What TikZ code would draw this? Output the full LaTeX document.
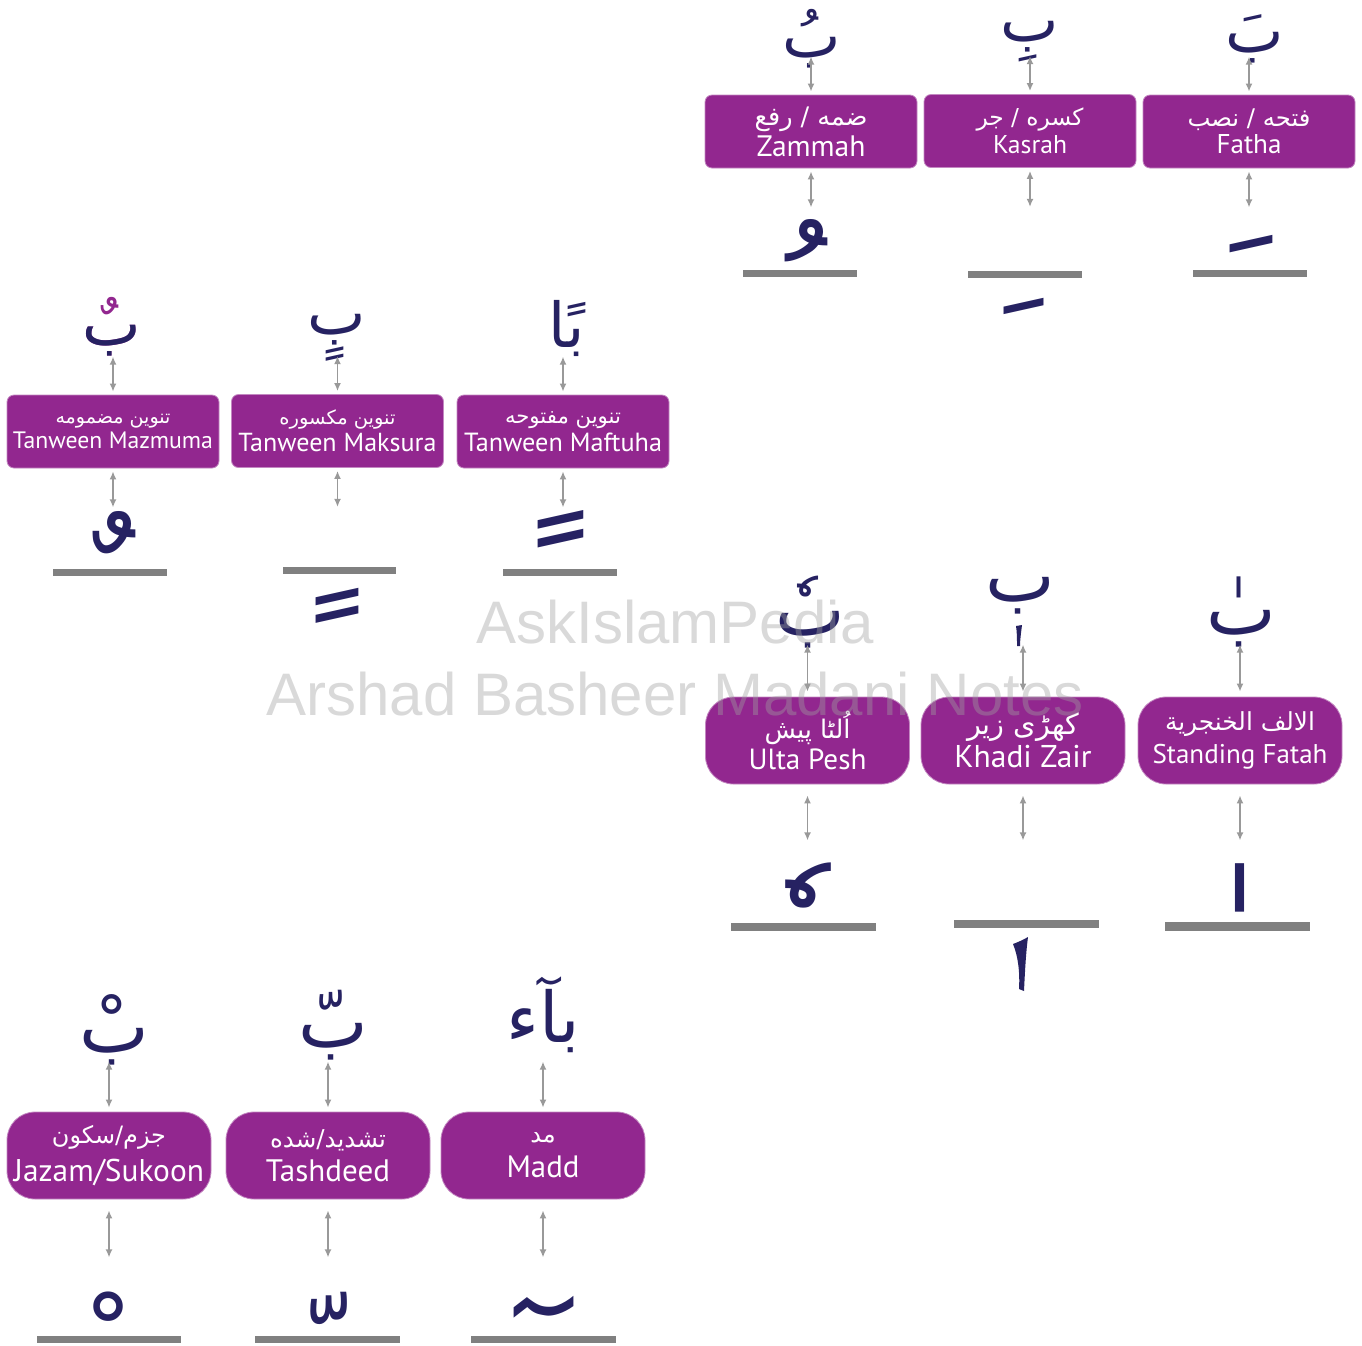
\documentclass[tikz,border=0pt]{standalone}
\usepackage{fontspec}
\setmainfont{PT Sans}
\newfontfamily\urdufont[Script=Arabic]{DejaVu Sans}
\newfontfamily\markfont{Liberation Sans}
\TeXXeTstate=1
\usetikzlibrary{arrows.meta,calc}
\definecolor{harakapurple}{RGB}{146,39,143}
\definecolor{inkblue}{RGB}{38,34,98}
\definecolor{rulegray}{RGB}{128,128,128}
\definecolor{arrowgray}{RGB}{153,153,153}
\definecolor{wmgray}{RGB}{160,160,160}

% Arabic-script text at a given size
\newcommand\arab[2]{{\urdufont\fontsize{#1}{#1}\selectfont #2}}
% Arabic-script text scaled to a given width
\newcommand\arabw[2]{\resizebox{#1pt}{!}{\urdufont #2}}
% Latin text scaled to a given width
\newcommand\latw[2]{\resizebox{#1pt}{!}{#2}}
% a large mark that sits above the baseline, lowered so its box hugs the ink
\newcommand\highsign[2]{{\urdufont\fontsize{#1}{#1}\selectfont\raisebox{-0.6em}[0.3em][0pt]{#2}}}

\begin{document}
\begin{tikzpicture}[x=1pt,y=-1pt,
  namebox/.style={rectangle, rounded corners=7pt, fill=harakapurple,
    draw=harakapurple!55!white, line width=0.8pt, minimum width=212pt,
    minimum height=73pt, inner sep=0pt, text=white, align=center},
  roundbox/.style={namebox, rounded corners=28pt, minimum width=204pt, minimum height=87pt},
  letter/.style={text=inkblue, inner sep=0pt},
  sign/.style={text=inkblue, inner sep=0pt},
  dbl/.style={draw=arrowgray, line width=1.6pt,
    {Latex[length=8pt,width=7pt]}-{Latex[length=8pt,width=7pt]}},
  baseline rule/.style={fill=rulegray},
  wm/.style={text=wmgray, text opacity=0.4, inner sep=0pt,
    font=\markfont\fontsize{60}{60}\selectfont}]
\useasboundingbox (0,0) rectangle (1362,1345);

% ---------- Zammah, Kasrah, Fatha ----------
\node[namebox] (bZ) at (811,131.5) {\arabw{113}{\beginR ضمه / رفع\endR}\\[3pt]\latw{109}{Zammah}};
\node[namebox] (bK) at (1030,131) {\arabw{107}{\beginR کسره / جر\endR}\\[3pt]\latw{74}{Kasrah}};
\node[namebox] (bF) at (1249,131.5) {\arabw{123}{\beginR فتحه / نصب\endR}\\[3pt]\latw{65}{Fatha}};

\node[letter] (tZ) at (812,39) {\arab{62}{\beginR ب^^^^064f\endR}};
\node[letter] (tK) at (1030,42) {\arab{62}{\beginR ب^^^^0650\endR}};
\node[letter] (tF) at (1255,39) {\arab{62}{\beginR ب^^^^064e\endR}};

\node[sign] (sZ) at (806,238) {\highsign{150}{^^^^fe78}};
\node[sign] (sK) at (1024,305) {\arab{140}{^^^^fe7a}};
\node[sign] (sF) at (1251,229) {\highsign{150}{^^^^fe76}};

\fill[baseline rule] (743,270) rectangle (857,277);
\fill[baseline rule] (968,271) rectangle (1082,278);
\fill[baseline rule] (1193,270) rectangle (1307,277);

\foreach \b in {bZ,bK,bF}{
  \coordinate (\b-up) at ($(\b.north)+(0,-38)$);
  \coordinate (\b-dn) at ($(\b.south)+(0,39)$);
  \draw[dbl] (\b-up) -- ($(\b.north)+(0,-3)$);
  \draw[dbl] ($(\b.south)+(0,3)$) -- (\b-dn);
}

% ---------- Tanween ----------
\node[namebox] (bMz) at (113,431.5) {\arabw{115}{\beginR تنوین مضمومه\endR}\\[3pt]\latw{200}{Tanween Mazmuma}};
\node[namebox] (bMk) at (337.5,431) {\arabw{116}{\beginR تنوین مکسوره\endR}\\[3pt]\latw{198}{Tanween Maksura}};
\node[namebox] (bMf) at (563,431.5) {\arabw{116}{\beginR تنوین مفتوحه\endR}\\[3pt]\latw{198}{Tanween Maftuha}};

\node[letter, text=harakapurple, anchor=base east] (tMzMark) at (141,345) {\arab{62}{\beginR ب^^^^064c\endR}};
\node[letter, anchor=base east] (tMz) at (141,345) {\arab{62}{\beginR ب\endR}};
\node[letter] (tMk) at (337,338) {\arab{62}{\beginR ب^^^^064d\endR}};
\node[letter] (tMf) at (567,328) {\arab{62}{\beginR ب^^^^064bا\endR}};

\node[sign] (sMz) at (114,529.5) {\highsign{150}{^^^^fe72}};
\node[sign] (sMk) at (337,605) {\arab{150}{^^^^fe74}};
\node[sign] (sMf) at (561,522) {\highsign{160}{^^^^fe70}};

\fill[baseline rule] (53,569) rectangle (167,576);
\fill[baseline rule] (283,567) rectangle (396,574);
\fill[baseline rule] (503,569) rectangle (617,576);

\foreach \b in {bMz,bMk,bMf}{
  \coordinate (\b-up) at ($(\b.north)+(0,-38)$);
  \coordinate (\b-dn) at ($(\b.south)+(0,39)$);
  \draw[dbl] (\b-up) -- ($(\b.north)+(0,-3)$);
  \draw[dbl] ($(\b.south)+(0,3)$) -- (\b-dn);
}

% ---------- Ulta Pesh, Khadi Zair, Standing Fatah ----------
\node[roundbox] (bU) at (807.5,740.5) {\arabw{86}{\beginR ا^^^^064fلٹا پیش\endR}\\[3pt]\latw{118}{Ulta Pesh}};
\node[roundbox] (bKh) at (1023,740.5) {\arabw{112}{\beginR کھڑی زیر\endR}\\[3pt]\latw{137}{Khadi Zair}};
\node[roundbox] (bS) at (1240,740.5) {\arabw{150}{\beginR الالف الخنجرية\endR}\\[7pt]\latw{175}{Standing Fatah}};

\node[letter] (tU) at (810,612) {\arab{74}{\beginR ب^^^^0657\endR}};
\node[letter] (tKh) at (1020,596) {\arab{74}{\beginR ب\endR}};
\node[letter] (tS) at (1241,612) {\arab{74}{\beginR ب^^^^0670\endR}};
% subscript alef under the Khadi Zair letter
\fill[inkblue] (1016,626) -- (1022,625) .. controls (1021,633) and (1020,640) .. (1020,646)
  -- (1017,646) .. controls (1017,639) and (1017,632) .. cycle;

\node[sign] (sU) at (794,886) {\highsign{160}{^^^^00a0^^^^0657}};
\node[sign] (sS) at (1225,887) {\highsign{170}{^^^^00a0^^^^0670}};
% large subscript alef below the Khadi Zair rule
\fill[inkblue] (1013,944) .. controls (1018,942) and (1023,940) .. (1028,937)
  .. controls (1026,952) and (1025,970) .. (1024,991)
  -- (1019,989) .. controls (1020,972) and (1018,956) .. cycle;

\fill[baseline rule] (731,923) rectangle (876,931);
\fill[baseline rule] (954,920) rectangle (1099,928);
\fill[baseline rule] (1165,922) rectangle (1310,931);

\foreach \b in {bU,bKh,bS}{
  \coordinate (\b-up) at ($(\b.north)+(0,-52)$);
  \coordinate (\b-dn) at ($(\b.south)+(0,56)$);
  \draw[dbl] (\b-up) -- ($(\b.north)+(0,-5)$);
  \draw[dbl] ($(\b.south)+(0,11)$) -- (\b-dn);
}

% ---------- Jazam, Tashdeed, Madd ----------
\node[roundbox] (bJ) at (109,1155.5) {\arabw{114}{\beginR جزم/سکون\endR}\\[8pt]\latw{190}{Jazam/Sukoon}};
\node[roundbox] (bT) at (328,1155.5) {\arabw{116}{\beginR تشدید/شده\endR}\\[8pt]\latw{124}{Tashdeed}};
\node[roundbox] (bMd) at (543,1155.5) {\arab{24}{\beginR مد\endR}\\[12pt]\latw{73}{Madd}};

\node[letter] (tJ) at (114,1030) {\arab{74}{\beginR ب^^^^0652\endR}};
\node[letter] (tT) at (333,1025) {\arab{74}{\beginR ب^^^^0651\endR}};
\node[letter] (tMd) at (543,1015) {\arab{70}{\beginR بآء\endR}};

\node[sign] (sJ) at (109,1306) {\highsign{110}{^^^^fe7e}};
\node[sign] (sT) at (329,1306) {\highsign{120}{^^^^fe7c}};
\node[sign] (sMd) at (529,1291) {\highsign{170}{^^^^00a0^^^^0653}};

\fill[baseline rule] (37,1336) rectangle (181,1343);
\fill[baseline rule] (255,1336) rectangle (400,1343);
\fill[baseline rule] (471,1336) rectangle (616,1343);

\foreach \b in {bJ,bT,bMd}{
  \coordinate (\b-up) at ($(\b.north)+(0,-50)$);
  \coordinate (\b-dn) at ($(\b.south)+(0,58)$);
  \draw[dbl] (\b-up) -- ($(\b.north)+(0,-4)$);
  \draw[dbl] ($(\b.south)+(0,11)$) -- (\b-dn);
}

% ---------- watermark ----------
\node[wm] (wm1) at (675,622) {AskIslamPedia};
\node[wm] (wm2) at (675,694) {Arshad Basheer Madani Notes};
\end{tikzpicture}
\end{document}
